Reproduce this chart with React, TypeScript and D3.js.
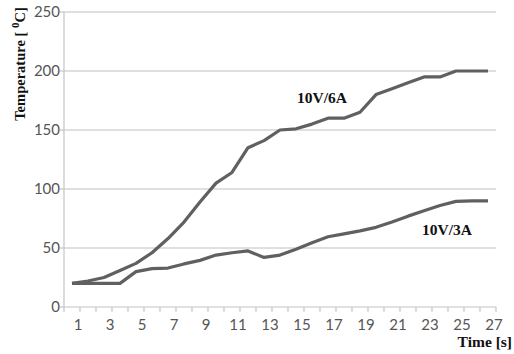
import React from "react";
import * as d3 from "d3";

// Time steps [s] and measured temperatures [°C]
const seconds: number[] = d3.range(1, 28);
const temp6A: number[] = [20, 22, 25, 31, 37, 46, 58, 72, 89, 105, 114, 135, 141, 150, 151, 155, 160, 160, 165, 180, 185, 190, 195, 195, 200, 200, 200];
const temp3A: number[] = [20, 20, 20, 20, 30, 32.5, 33, 36.5, 39.5, 44, 46, 47.5, 42, 44, 49, 54.5, 59.5, 62, 64.5, 67.5, 72, 77, 81.5, 86, 89.5, 90, 90];
const yTicks: number[] = [0, 50, 100, 150, 200, 250];
const xTickLabels: number[] = seconds.filter((s) => s % 2 === 1);

const W = 514;
const H = 354;
const M = { left: 64, right: 18, top: 12, bottom: 47 };

export default function App() {
  const x = d3
    .scaleBand<number>()
    .domain(seconds)
    .range([M.left, W - M.right])
    .paddingInner(0)
    .paddingOuter(0);
  const y = d3.scaleLinear().domain([0, 250]).range([H - M.bottom, M.top]);
  const cx = (s: number) => (x(s) as number) + x.bandwidth() / 2;

  const line = d3
    .line<number>()
    .x((_, i) => cx(seconds[i]))
    .y((d) => y(d));

  const boundaries = d3.range(0, seconds.length + 1).map((k) => M.left + k * x.bandwidth());
  const lineColor = "#606060";
  const serif = "'Liberation Serif', 'Times New Roman', serif";
  const sans = "Lato, 'Open Sans', sans-serif";

  return (
    <svg width={W} height={H} style={{ position: "absolute", left: 0, top: 0, background: "#fff" }}>
      {/* horizontal gridlines */}
      {yTicks.filter((t) => t > 0).map((t) => (
        <line key={t} x1={M.left} x2={W - M.right} y1={y(t)} y2={y(t)} stroke="#d4d4d4" strokeWidth={1.5} />
      ))}
      {/* y axis */}
      <line x1={M.left} x2={M.left} y1={M.top} y2={y(0)} stroke="#c4c4c4" strokeWidth={1.2} />
      {yTicks.map((t) => (
        <g key={t}>
          <line x1={M.left - 4} x2={M.left} y1={y(t)} y2={y(t)} stroke="#c4c4c4" strokeWidth={1.2} />
          <text x={M.left - 4} y={y(t)} dy="0.36em" textAnchor="end" fontFamily={sans} fontSize={15} fill="#555">
            {t}
          </text>
        </g>
      ))}
      {/* x axis */}
      <line x1={M.left} x2={W - M.right} y1={y(0)} y2={y(0)} stroke="#c4c4c4" strokeWidth={1.2} />
      {boundaries.map((bx, i) => (
        <line key={i} x1={bx} x2={bx} y1={y(0)} y2={y(0) + 5} stroke="#c4c4c4" strokeWidth={1.2} />
      ))}
      {xTickLabels.map((s) => (
        <text key={s} x={cx(s) + 6} y={y(0) + 23} textAnchor="middle" fontFamily={sans} fontSize={15} fill="#555">
          {s}
        </text>
      ))}
      {/* series */}
      <path d={line(temp3A) ?? ""} fill="none" stroke={lineColor} strokeWidth={3.2} strokeLinejoin="round" />
      <path d={line(temp6A) ?? ""} fill="none" stroke={lineColor} strokeWidth={3.2} strokeLinejoin="round" />
      {/* series labels */}
      <text x={322} y={103} textAnchor="middle" fontFamily={serif} fontWeight="bold" fontSize={15.5} fill="#111">
        10V/6A
      </text>
      <text x={447} y={235} textAnchor="middle" fontFamily={serif} fontWeight="bold" fontSize={15.5} fill="#111">
        10V/3A
      </text>
      {/* axis titles */}
      <text x={W - 2} y={347} textAnchor="end" fontFamily={serif} fontWeight="bold" fontSize={15.5} fill="#111">
        Time [s]
      </text>
      <text
        transform={`translate(25, ${64}) rotate(-90)`}
        textAnchor="middle"
        fontFamily={serif}
        fontWeight="bold"
        fontSize={14.5}
        fill="#111"
      >
        Temperature [ <tspan dy={-6} fontSize={11}>0</tspan>
        <tspan dy={6}>C]</tspan>
      </text>
    </svg>
  );
}
